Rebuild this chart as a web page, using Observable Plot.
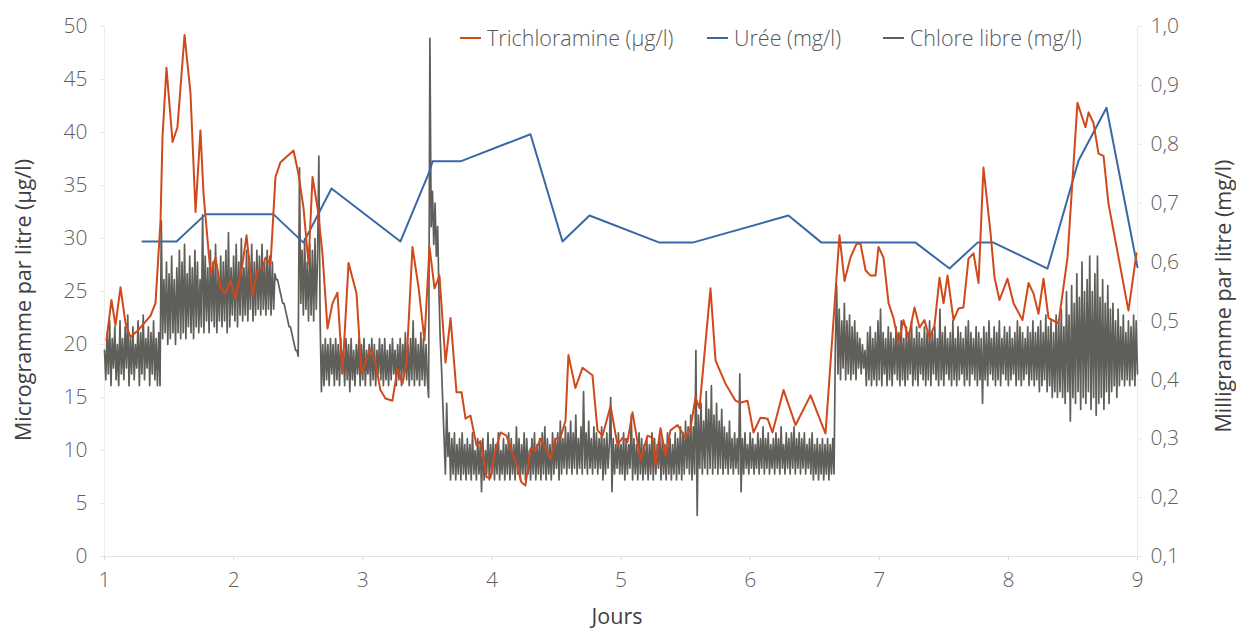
<!DOCTYPE html>
<html>
<head>
<meta charset="utf-8">
<script src="https://cdn.jsdelivr.net/npm/d3@7"></script>
<script src="https://cdn.jsdelivr.net/npm/@observablehq/plot@0.6"></script>
<style>
  html, body { margin: 0; padding: 0; background: #fff; }
  #wrap { position: relative; width: 1236px; height: 628px; font-family: "Open Sans", Roboto, "Liberation Sans", sans-serif; }
  #wrap svg { position: absolute; left: 0; top: 0; }
  .titre { position: absolute; white-space: nowrap; font-size: 21.5px; color: #3f3f3f; font-weight: 400; }
  .rot { transform: translate(-50%, -50%) rotate(-90deg); }
  .item { position: absolute; top: 24px; display: flex; align-items: center; font-size: 21.5px; font-weight: 300; color: #595959; white-space: nowrap; line-height: 28px; }
  .item .trait { display: inline-block; width: 21px; height: 2.5px; margin-right: 6px; }
</style>
</head>
<body>
<div id="wrap"></div>
<script>
// ---- Données ----
const joursTicks = [1, 2, 3, 4, 5, 6, 7, 8, 9];
const gaucheTicks = [0, 5, 10, 15, 20, 25, 30, 35, 40, 45, 50];
const droiteTicks = [0.1, 0.2, 0.3, 0.4, 0.5, 0.6, 0.7, 0.8, 0.9, 1.0];

// Trichloramine (µg/l) — axe gauche
const trichloJours = [1.015,1.054,1.085,1.124,1.163,1.201,1.256,1.356,1.395,1.434,
1.449,1.480,1.527,1.565,1.620,1.666,1.705,1.743,1.767,1.821,
1.860,1.898,1.937,1.976,2.015,2.069,2.100,2.146,2.185,2.224,
2.247,2.286,2.324,2.363,2.464,2.502,2.541,2.580,2.611,2.650,
2.688,2.727,2.766,2.804,2.843,2.890,2.952,2.990,3.060,3.099,
3.137,3.176,3.230,3.269,3.308,3.339,3.385,3.432,3.478,3.517,
3.556,3.594,3.641,3.680,3.726,3.765,3.796,3.834,3.881,3.912,
3.958,3.989,4.020,4.067,4.113,4.152,4.198,4.229,4.260,4.299,
4.338,4.377,4.415,4.454,4.493,4.531,4.570,4.593,4.647,4.702,
4.779,4.818,4.857,4.919,4.973,5.012,5.050,5.089,5.151,5.205,
5.244,5.267,5.306,5.345,5.383,5.438,5.499,5.538,5.577,5.608,
5.693,5.732,5.809,5.887,5.925,5.980,6.026,6.080,6.135,6.173,
6.259,6.352,6.468,6.584,6.692,6.731,6.777,6.824,6.855,6.894,
6.932,6.971,6.994,7.033,7.072,7.110,7.149,7.188,7.226,7.273,
7.312,7.350,7.389,7.428,7.467,7.498,7.529,7.575,7.614,7.652,
7.691,7.730,7.769,7.807,7.862,7.893,7.931,7.993,8.040,8.109,
8.156,8.195,8.233,8.272,8.311,8.388,8.458,8.535,8.597,8.621,
8.659,8.698,8.737,8.775,8.930,8.992];
const trichloramine = [20.4,24.2,21.8,25.4,22.0,20.7,21.3,22.7,23.9,31.7,
39.5,46.1,39.1,40.5,49.2,43.7,32.5,40.2,34.2,26.7,
28.2,25.4,24.8,26.0,24.4,27.6,30.3,24.6,27.0,27.2,
28.2,27.6,35.8,37.2,38.3,36.1,32.9,27.6,35.8,32.9,
28.6,21.5,23.9,24.9,17.3,27.7,24.8,17.3,19.6,18.2,
15.7,14.9,14.7,17.7,16.3,18.2,29.2,25.4,20.4,29.2,
25.3,26.5,18.3,22.5,15.5,15.5,13.0,13.3,10.5,10.9,
7.5,7.4,9.7,11.7,11.4,10.0,8.4,7.0,6.7,10.2,
10.0,11.1,10.2,9.2,11.1,11.2,12.8,19.0,15.9,17.8,
17.1,11.9,11.4,14.2,10.5,11.2,10.8,13.6,9.1,11.4,
11.2,8.6,12.1,9.5,11.9,12.4,11.2,12.1,15.0,14.0,
25.3,18.5,16.3,14.7,14.5,14.7,11.7,13.1,13.0,11.7,
15.7,12.4,15.2,11.6,30.3,26.0,28.2,29.5,29.5,27.0,
26.5,26.5,29.2,28.2,23.9,22.5,20.2,22.3,20.6,23.5,
21.6,22.3,20.6,21.8,26.3,23.9,26.5,22.3,23.4,23.5,
28.1,28.6,25.8,36.7,30.5,26.3,24.2,26.2,23.9,22.3,
25.8,24.8,22.9,26.2,22.5,22.0,28.2,42.8,40.5,41.9,
40.9,38.0,37.8,33.3,23.2,28.6];

// Urée (mg/l) — axe droit
const ureeJours = [1.294,1.558,1.782,2.309,2.541,2.758,3.292,3.517,3.540,3.757,4.299,4.547,4.756,5.298,5.554,6.297,6.553,7.281,7.544,7.761,7.885,8.303,8.543,8.760,9.0];
const uree = [0.635,0.635,0.681,0.681,0.633,0.725,0.635,0.754,0.771,0.771,0.817,0.635,0.679,0.633,0.633,0.679,0.633,0.633,0.589,0.633,0.633,0.589,0.772,0.862,0.591];

// Chlore libre (mg/l) — axe droit, un relevé tous les 0,01 jour à partir du jour 1
const chloreDebut = 1;
const chlorePas = 0.01;
const chloreLibre = [
0.45,0.40,0.48,0.41,0.50,0.39,0.47,0.42,0.49,0.40,0.46,0.39,0.50,0.41,0.47,0.40,0.49,0.42,0.51,0.39,
0.47,0.41,0.49,0.40,0.46,0.42,0.50,0.39,0.48,0.41,0.51,0.40,0.47,0.42,0.49,0.39,0.48,0.41,0.50,0.40,
0.47,0.39,0.48,0.39,0.67,0.47,0.57,0.48,0.60,0.46,0.58,0.47,0.61,0.48,0.57,0.46,0.59,0.48,0.62,0.47,
0.60,0.48,0.63,0.47,0.58,0.49,0.61,0.48,0.59,0.47,0.62,0.49,0.60,0.48,0.57,0.49,0.68,0.48,0.61,0.50,
0.59,0.48,0.62,0.50,0.60,0.49,0.63,0.48,0.58,0.50,0.61,0.49,0.60,0.50,0.62,0.48,0.65,0.49,0.59,0.51,
0.61,0.50,0.63,0.49,0.60,0.51,0.64,0.50,0.59,0.51,0.62,0.50,0.61,0.52,0.63,0.50,0.60,0.51,0.62,0.52,
0.61,0.51,0.63,0.52,0.60,0.51,0.62,0.52,0.61,0.51,0.60,0.52,0.58,0.57,0.57,0.56,0.55,0.54,0.53,0.53,
0.52,0.51,0.50,0.49,0.49,0.48,0.47,0.46,0.45,0.45,0.44,0.76,0.53,0.62,0.51,0.64,0.52,0.60,0.50,0.63,
0.51,0.62,0.50,0.64,0.52,0.61,0.78,0.50,0.38,0.46,0.39,0.47,0.40,0.46,0.39,0.47,0.41,0.46,0.39,0.47,
0.40,0.46,0.39,0.47,0.41,0.45,0.39,0.47,0.40,0.46,0.38,0.47,0.40,0.45,0.39,0.46,0.41,0.47,0.39,0.46,
0.40,0.47,0.39,0.45,0.41,0.46,0.39,0.47,0.40,0.46,0.39,0.45,0.41,0.47,0.40,0.46,0.39,0.47,0.40,0.45,
0.39,0.46,0.40,0.47,0.41,0.45,0.39,0.46,0.40,0.47,0.39,0.46,0.41,0.48,0.40,0.46,0.39,0.47,0.40,0.50,
0.39,0.47,0.40,0.46,0.39,0.48,0.40,0.47,0.39,0.46,0.40,0.37,0.98,0.66,0.72,0.63,0.70,0.61,0.66,0.55,
0.47,0.42,0.36,0.30,0.24,0.36,0.27,0.31,0.23,0.30,0.24,0.31,0.23,0.29,0.24,0.30,0.23,0.31,0.24,0.29,
0.23,0.30,0.24,0.29,0.23,0.31,0.24,0.28,0.23,0.30,0.24,0.29,0.21,0.30,0.23,0.28,0.24,0.31,0.23,0.29,
0.24,0.30,0.23,0.29,0.24,0.31,0.23,0.28,0.24,0.30,0.23,0.29,0.24,0.31,0.23,0.30,0.24,0.29,0.23,0.32,
0.24,0.30,0.23,0.29,0.24,0.31,0.23,0.30,0.24,0.28,0.23,0.30,0.24,0.31,0.23,0.29,0.24,0.30,0.23,0.31,
0.24,0.32,0.23,0.30,0.24,0.29,0.23,0.31,0.24,0.30,0.25,0.31,0.23,0.33,0.24,0.30,0.25,0.32,0.24,0.31,
0.25,0.33,0.24,0.31,0.25,0.34,0.24,0.30,0.25,0.32,0.24,0.38,0.25,0.31,0.24,0.33,0.25,0.30,0.24,0.32,
0.25,0.31,0.24,0.30,0.25,0.32,0.23,0.30,0.24,0.31,0.25,0.29,0.37,0.21,0.30,0.24,0.29,0.25,0.31,0.24,
0.29,0.24,0.31,0.23,0.30,0.24,0.29,0.25,0.34,0.23,0.30,0.24,0.29,0.23,0.31,0.24,0.30,0.23,0.29,0.24,
0.30,0.23,0.29,0.24,0.31,0.23,0.30,0.24,0.29,0.25,0.31,0.23,0.30,0.24,0.29,0.23,0.31,0.24,0.30,0.23,
0.29,0.24,0.31,0.23,0.30,0.24,0.32,0.23,0.31,0.24,0.33,0.25,0.32,0.24,0.34,0.23,0.32,0.24,0.45,0.17,
0.34,0.25,0.36,0.24,0.33,0.25,0.38,0.24,0.35,0.25,0.39,0.24,0.34,0.25,0.36,0.24,0.33,0.25,0.35,0.24,
0.32,0.25,0.31,0.24,0.33,0.25,0.30,0.24,0.31,0.25,0.30,0.24,0.41,0.21,0.30,0.24,0.31,0.25,0.29,0.24,
0.31,0.25,0.30,0.24,0.29,0.25,0.31,0.24,0.30,0.25,0.32,0.24,0.30,0.25,0.31,0.24,0.29,0.25,0.30,0.24,
0.31,0.25,0.30,0.24,0.32,0.25,0.29,0.24,0.31,0.25,0.30,0.24,0.31,0.25,0.32,0.24,0.30,0.25,0.31,0.24,
0.30,0.25,0.31,0.24,0.29,0.25,0.30,0.24,0.31,0.23,0.29,0.24,0.30,0.23,0.29,0.24,0.30,0.23,0.29,0.24,
0.30,0.23,0.29,0.24,0.30,0.24,0.46,0.56,0.41,0.52,0.40,0.50,0.42,0.53,0.40,0.50,0.41,0.51,0.40,0.49,
0.41,0.50,0.40,0.48,0.42,0.47,0.41,0.46,0.42,0.45,0.39,0.48,0.40,0.49,0.39,0.47,0.40,0.48,0.39,0.50,
0.40,0.52,0.39,0.48,0.41,0.47,0.39,0.49,0.40,0.48,0.39,0.47,0.41,0.49,0.40,0.48,0.39,0.50,0.40,0.47,
0.39,0.49,0.40,0.48,0.41,0.50,0.39,0.47,0.40,0.49,0.39,0.48,0.41,0.47,0.40,0.49,0.39,0.48,0.40,0.50,
0.39,0.48,0.41,0.49,0.40,0.47,0.39,0.52,0.40,0.48,0.39,0.49,0.41,0.47,0.40,0.48,0.39,0.50,0.40,0.47,
0.39,0.49,0.40,0.48,0.41,0.47,0.39,0.49,0.40,0.50,0.39,0.48,0.41,0.47,0.40,0.49,0.39,0.48,0.40,0.47,
0.36,0.49,0.40,0.48,0.39,0.50,0.41,0.47,0.40,0.49,0.39,0.48,0.40,0.50,0.39,0.47,0.41,0.49,0.40,0.48,
0.39,0.49,0.40,0.47,0.41,0.48,0.39,0.50,0.40,0.49,0.39,0.48,0.40,0.47,0.41,0.49,0.39,0.48,0.40,0.50,
0.39,0.48,0.40,0.49,0.38,0.50,0.39,0.48,0.40,0.51,0.38,0.49,0.39,0.50,0.37,0.48,0.38,0.51,0.37,0.50,
0.38,0.52,0.37,0.49,0.36,0.55,0.38,0.51,0.33,0.56,0.37,0.53,0.36,0.58,0.38,0.54,0.35,0.60,0.37,0.55,
0.36,0.57,0.38,0.61,0.35,0.55,0.37,0.58,0.34,0.61,0.36,0.54,0.37,0.57,0.35,0.53,0.38,0.56,0.36,0.52,
0.38,0.53,0.39,0.50,0.37,0.52,0.39,0.49,0.40,0.51,0.39,0.48,0.40,0.50,0.39,0.49,0.40,0.51,0.39,0.50,
0.41];

const series = [
  {nom: "Trichloramine (µg/l)", couleur: "#d1491b"},
  {nom: "Urée (mg/l)", couleur: "#3a68a6"},
  {nom: "Chlore libre (mg/l)", couleur: "#605e59"}
];

// ---- Correspondance des deux axes ----
// axe droit 0,1 → 1,0 mg/l  <=>  axe gauche 0 → 50 µg/l
const versGauche = mg => (mg - 0.1) / 0.9 * 50;
const versDroite = v => 0.1 + v / 50 * 0.9;

const dTrichlo = trichloJours.map((j, i) => ({jour: j, v: trichloramine[i]}));
const dUree = ureeJours.map((j, i) => ({jour: j, v: versGauche(uree[i])}));
const dChlore = chloreLibre.map((c, i) => ({jour: chloreDebut + i * chlorePas, v: versGauche(c)}));

const fontTick = "'Open Sans', Roboto, 'Liberation Sans', sans-serif";

const chart = Plot.plot({
  width: 1236,
  height: 628,
  marginLeft: 104,
  marginRight: 99,
  marginTop: 26,
  marginBottom: 72,
  style: {fontFamily: fontTick, fontSize: "21px", fontWeight: 300, background: "transparent"},
  x: {domain: [1, 9]},
  y: {domain: [0, 50]},
  marks: [
    Plot.ruleY([0], {stroke: "#e3e3e3", strokeWidth: 1}),
    Plot.ruleX([1], {stroke: "#ececec", strokeWidth: 1}),
    Plot.ruleX([9], {stroke: "#ececec", strokeWidth: 1}),
    Plot.axisX(joursTicks, {tickSize: 4, tickPadding: 12, stroke: "#dcdcdc", fill: "#5f5f5f", label: null, fontSize: 21, tickFormat: d => String(d)}),
    Plot.axisY(gaucheTicks, {anchor: "left", tickSize: 4, tickPadding: 13, stroke: "#e6e6e6", fill: "#5f5f5f", label: null, fontSize: 21, tickFormat: d => String(d)}),
    Plot.axisY(droiteTicks.map(versGauche), {anchor: "right", tickSize: 4, tickPadding: 9, stroke: "#e6e6e6", fill: "#5f5f5f", label: null, fontSize: 21,
      tickFormat: v => versDroite(v).toFixed(1).replace(".", ",")}),
    Plot.line(dChlore, {x: "jour", y: "v", stroke: series[2].couleur, strokeWidth: 1.7}),
    Plot.line(dUree, {x: "jour", y: "v", stroke: series[1].couleur, strokeWidth: 2}),
    Plot.line(dTrichlo, {x: "jour", y: "v", stroke: series[0].couleur, strokeWidth: 2})
  ]
});

const wrap = document.getElementById("wrap");
wrap.appendChild(chart);

// Légende
const legendeX = [460, 707, 883];
series.forEach((s, i) => {
  const it = document.createElement("span");
  it.className = "item";
  it.style.left = legendeX[i] + "px";
  const t = document.createElement("span");
  t.className = "trait";
  t.style.background = s.couleur;
  it.appendChild(t);
  it.appendChild(document.createTextNode(s.nom));
  wrap.appendChild(it);
});

// Titres des axes
function titre(txt, x, y, rot) {
  const d = document.createElement("div");
  d.className = "titre" + (rot ? " rot" : "");
  d.textContent = txt;
  d.style.left = x + "px";
  d.style.top = y + "px";
  if (!rot) d.style.transform = "translate(-50%, -50%)";
  wrap.appendChild(d);
}
titre("Microgramme par litre (µg/l)", 22, 300, true);
titre("Milligramme par litre (mg/l)", 1222, 296, true);
titre("Jours", 617, 615, false);
</script>
</body>
</html>
